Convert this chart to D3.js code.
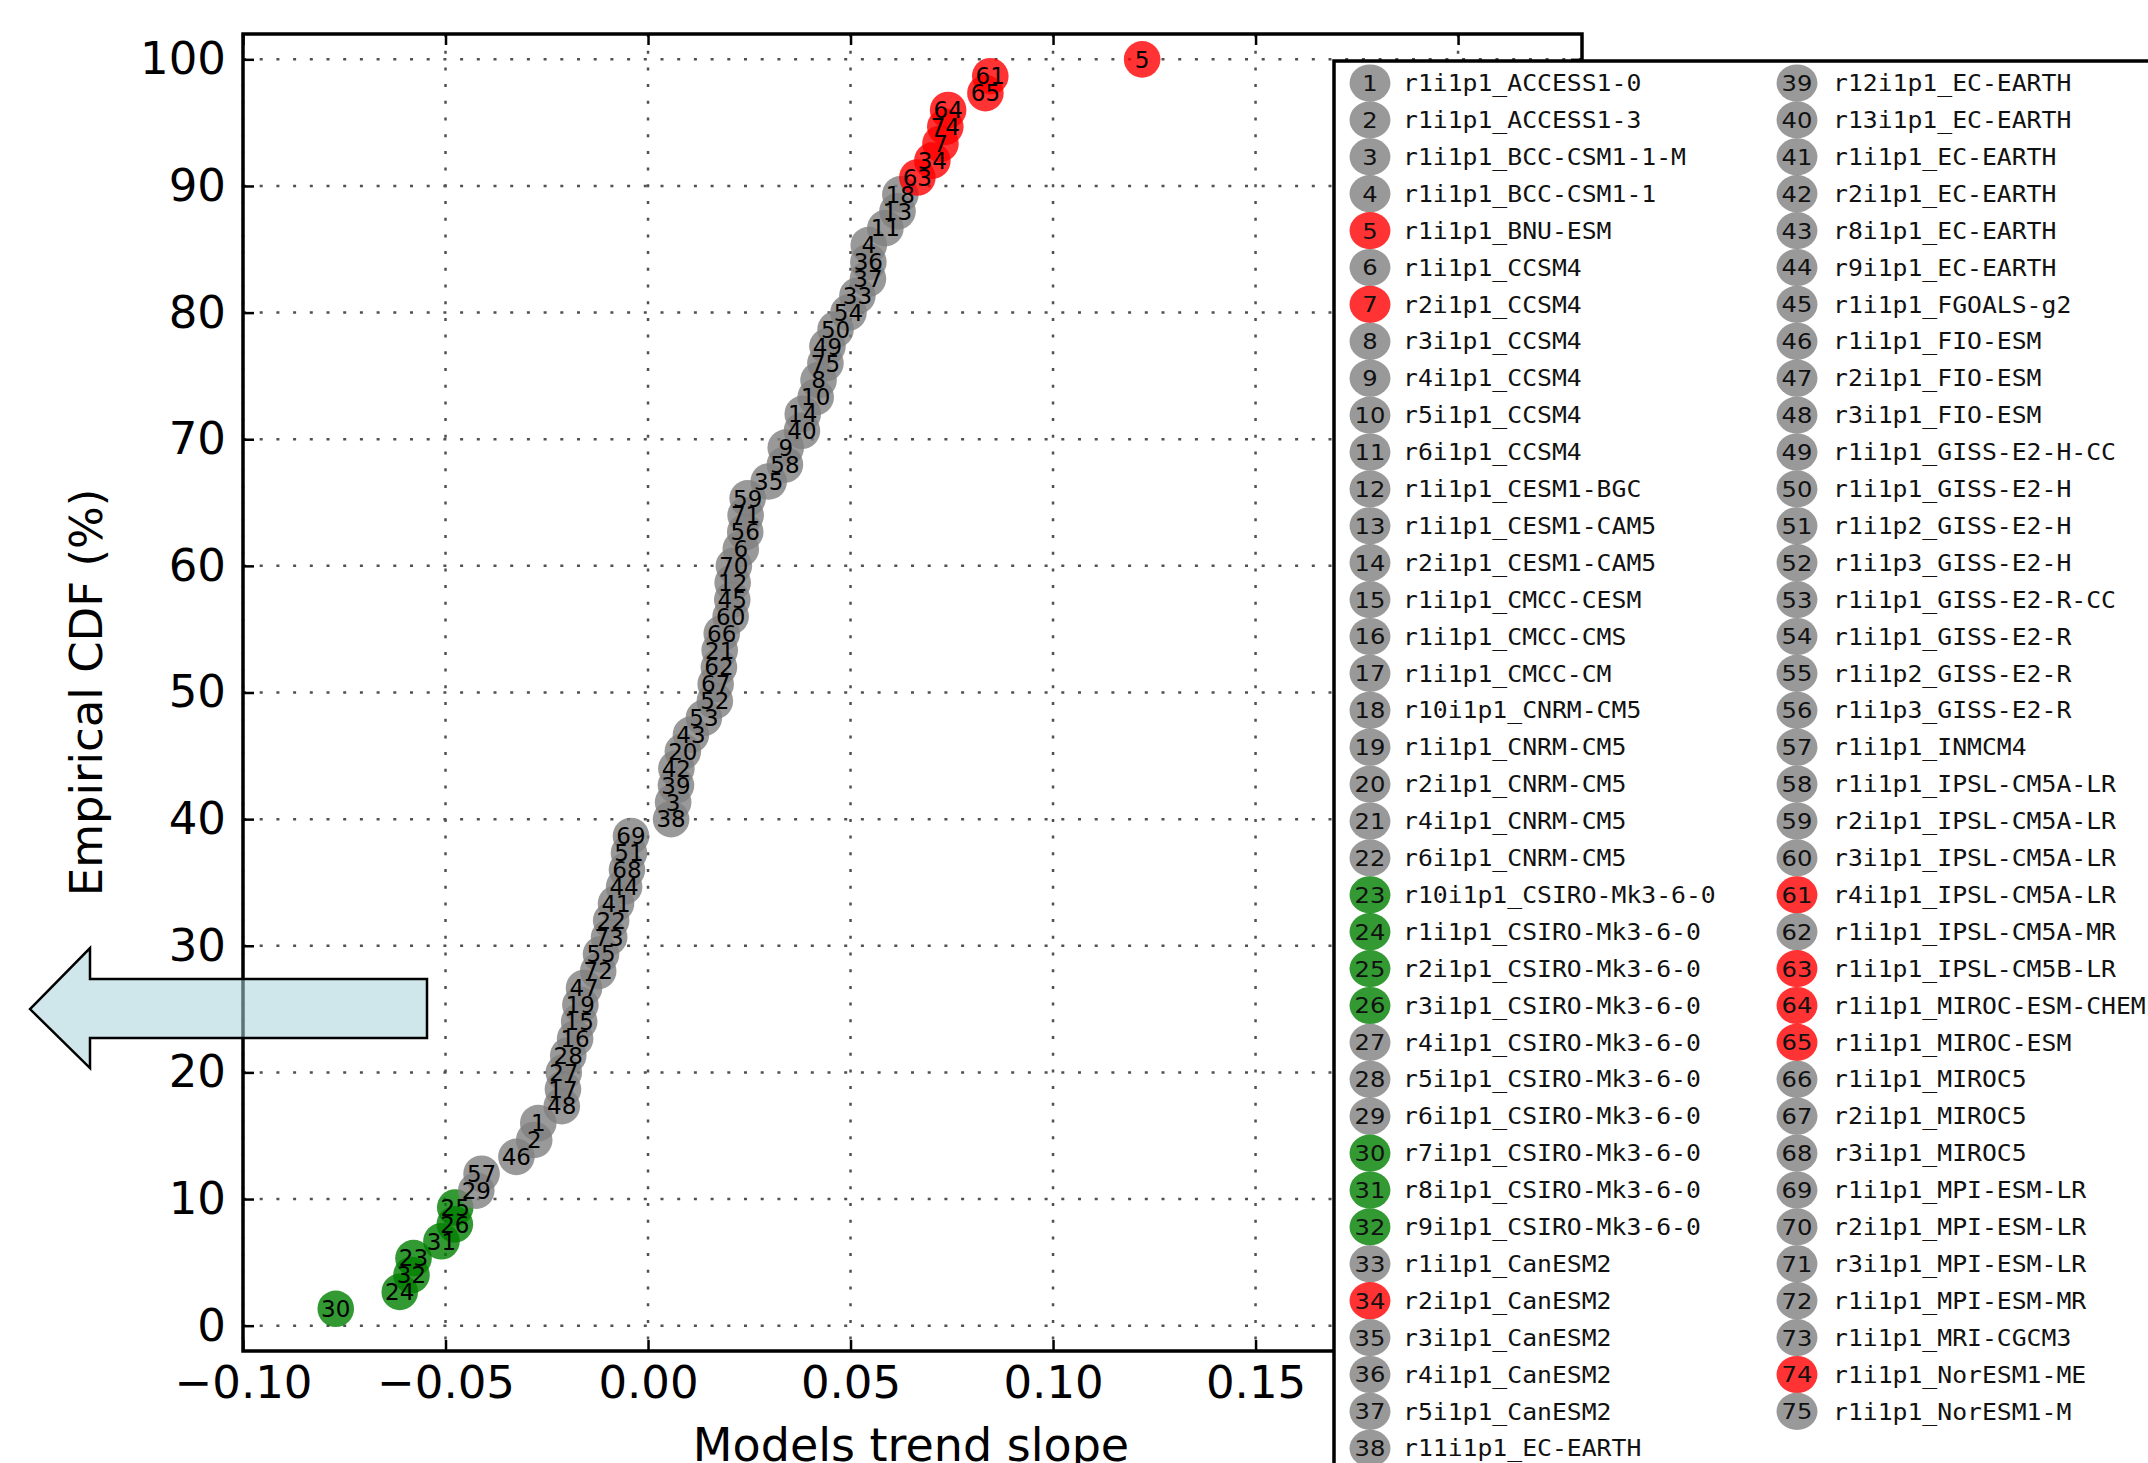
<!DOCTYPE html>
<html>
<head>
<meta charset="utf-8">
<script src="https://cdn.jsdelivr.net/npm/d3@7"></script>
<style>
  html, body { margin: 0; padding: 0; background: #fff; }
  svg { display: block; }
</style>
</head>
<body>
<svg id="chart" width="2148" height="1463"></svg>
<script>
// ---------------- DATA ----------------
const modelNames = [
  "r1i1p1_ACCESS1-0","r1i1p1_ACCESS1-3","r1i1p1_BCC-CSM1-1-M","r1i1p1_BCC-CSM1-1","r1i1p1_BNU-ESM",
  "r1i1p1_CCSM4","r2i1p1_CCSM4","r3i1p1_CCSM4","r4i1p1_CCSM4","r5i1p1_CCSM4",
  "r6i1p1_CCSM4","r1i1p1_CESM1-BGC","r1i1p1_CESM1-CAM5","r2i1p1_CESM1-CAM5","r1i1p1_CMCC-CESM",
  "r1i1p1_CMCC-CMS","r1i1p1_CMCC-CM","r10i1p1_CNRM-CM5","r1i1p1_CNRM-CM5","r2i1p1_CNRM-CM5",
  "r4i1p1_CNRM-CM5","r6i1p1_CNRM-CM5","r10i1p1_CSIRO-Mk3-6-0","r1i1p1_CSIRO-Mk3-6-0","r2i1p1_CSIRO-Mk3-6-0",
  "r3i1p1_CSIRO-Mk3-6-0","r4i1p1_CSIRO-Mk3-6-0","r5i1p1_CSIRO-Mk3-6-0","r6i1p1_CSIRO-Mk3-6-0","r7i1p1_CSIRO-Mk3-6-0",
  "r8i1p1_CSIRO-Mk3-6-0","r9i1p1_CSIRO-Mk3-6-0","r1i1p1_CanESM2","r2i1p1_CanESM2","r3i1p1_CanESM2",
  "r4i1p1_CanESM2","r5i1p1_CanESM2","r11i1p1_EC-EARTH","r12i1p1_EC-EARTH","r13i1p1_EC-EARTH",
  "r1i1p1_EC-EARTH","r2i1p1_EC-EARTH","r8i1p1_EC-EARTH","r9i1p1_EC-EARTH","r1i1p1_FGOALS-g2",
  "r1i1p1_FIO-ESM","r2i1p1_FIO-ESM","r3i1p1_FIO-ESM","r1i1p1_GISS-E2-H-CC","r1i1p1_GISS-E2-H",
  "r1i1p2_GISS-E2-H","r1i1p3_GISS-E2-H","r1i1p1_GISS-E2-R-CC","r1i1p1_GISS-E2-R","r1i1p2_GISS-E2-R",
  "r1i1p3_GISS-E2-R","r1i1p1_INMCM4","r1i1p1_IPSL-CM5A-LR","r2i1p1_IPSL-CM5A-LR","r3i1p1_IPSL-CM5A-LR",
  "r4i1p1_IPSL-CM5A-LR","r1i1p1_IPSL-CM5A-MR","r1i1p1_IPSL-CM5B-LR","r1i1p1_MIROC-ESM-CHEM","r1i1p1_MIROC-ESM",
  "r1i1p1_MIROC5","r2i1p1_MIROC5","r3i1p1_MIROC5","r1i1p1_MPI-ESM-LR","r2i1p1_MPI-ESM-LR",
  "r3i1p1_MPI-ESM-LR","r1i1p1_MPI-ESM-MR","r1i1p1_MRI-CGCM3","r1i1p1_NorESM1-ME","r1i1p1_NorESM1-M"
];
const redModels   = [5, 7, 34, 61, 63, 64, 65, 74];
const greenModels = [23, 24, 25, 26, 30, 31, 32];

// model numbers sorted by trend slope (ascending) and their slopes
const sortedModels = [30,24,32,23,31,26,25,29,57,46,2,1,48,17,27,28,16,15,19,47,72,55,73,22,41,44,68,51,69,38,
  3,39,42,20,43,53,52,67,62,21,66,60,45,12,70,6,56,71,59,35,58,9,40,14,10,8,75,49,50,54,
  33,37,36,4,11,13,18,63,34,7,74,64,65,61,5];
const trendSlope = [-0.0771,-0.0613,-0.0584,-0.0579,-0.0510,-0.0477,-0.0476,-0.0424,-0.0411,-0.0325,
  -0.0281,-0.0271,-0.0213,-0.0210,-0.0208,-0.0197,-0.0180,-0.0170,-0.0167,-0.0158,
  -0.0123,-0.0116,-0.0096,-0.0091,-0.0079,-0.0059,-0.0052,-0.0047,-0.0042,0.0057,
  0.0062,0.0069,0.0070,0.0086,0.0106,0.0138,0.0165,0.0167,0.0175,0.0177,
  0.0182,0.0204,0.0208,0.0209,0.0212,0.0229,0.0240,0.0241,0.0246,0.0298,
  0.0338,0.0340,0.0380,0.0382,0.0414,0.0421,0.0438,0.0443,0.0463,0.0495,
  0.0517,0.0543,0.0544,0.0545,0.0586,0.0616,0.0623,0.0665,0.0702,0.0722,
  0.0734,0.0741,0.0833,0.0845,0.1220];

const xTicks = [-0.10, -0.05, 0.00, 0.05, 0.10, 0.15, 0.20];
const yTicks = [0, 10, 20, 30, 40, 50, 60, 70, 80, 90, 100];
const xLabel = "Models trend slope";
const yLabel = "Empirical CDF (%)";

// ---------------- LAYOUT ----------------
const svg = d3.select("#chart");
const FONT = "'DejaVu Sans', 'Liberation Sans', sans-serif";
const MONO = "'DejaVu Sans Mono', 'Liberation Mono', monospace";
const plot = { left: 243, right: 1582, top: 34, bottom: 1351 };

const x = d3.scaleLinear().domain([-0.1, 0.2306]).range([plot.left, plot.right]);
const y = d3.scaleLinear().domain([-2, 102]).range([plot.bottom, plot.top]);

const n = sortedModels.length;
const points = sortedModels.map((m, i) => ({
  model: m,
  slope: trendSlope[i],
  cdf: (i + 1) / n * 100
}));
const colorOf = m => redModels.includes(m) ? "#ff0000" : (greenModels.includes(m) ? "#008000" : "#808080");

svg.append("rect").attr("width", 2148).attr("height", 1463).attr("fill", "#fff");

// grid
const grid = svg.append("g").attr("stroke", "#333").attr("stroke-width", 2.5)
  .attr("stroke-dasharray", "3,13.7").attr("opacity", 0.85);
grid.selectAll("line.gx").data(xTicks).join("line")
  .attr("x1", d => x(d)).attr("x2", d => x(d)).attr("y1", plot.top).attr("y2", plot.bottom);
grid.selectAll("line.gy").data(yTicks).join("line")
  .attr("class", "gy")
  .attr("y1", d => y(d)).attr("y2", d => y(d)).attr("x1", plot.left).attr("x2", plot.right);

// points
svg.append("g").selectAll("circle").data(points).join("circle")
  .attr("cx", d => x(d.slope)).attr("cy", d => y(d.cdf)).attr("r", 18.3)
  .attr("fill", d => colorOf(d.model)).attr("fill-opacity", 0.8);
svg.append("g").selectAll("text").data(points).join("text")
  .attr("x", d => x(d.slope)).attr("y", d => y(d.cdf)).attr("dy", "0.36em")
  .attr("text-anchor", "middle").attr("font-family", FONT).attr("font-size", 23)
  .attr("fill", "#000").text(d => d.model);

// axes
function styleAxis(g) {
  g.select(".domain").remove();
  g.attr("font-family", FONT).attr("font-size", 45);
  g.selectAll(".tick line").attr("stroke", "#000").attr("stroke-width", 2.5);
  g.selectAll(".tick text").attr("fill", "#000");
}
svg.append("g").attr("transform", `translate(0,${plot.bottom})`)
  .call(d3.axisBottom(x).tickValues(xTicks).tickFormat(d3.format(".2f")).tickSizeInner(-11).tickSizeOuter(0).tickPadding(15))
  .call(styleAxis);
svg.append("g").attr("transform", `translate(0,${plot.top})`)
  .call(d3.axisTop(x).tickValues(xTicks).tickFormat("").tickSizeInner(-11).tickSizeOuter(0))
  .call(styleAxis);
svg.append("g").attr("transform", `translate(${plot.left},0)`)
  .call(d3.axisLeft(y).tickValues(yTicks).tickFormat(d3.format("d")).tickSizeInner(-11).tickSizeOuter(0).tickPadding(17))
  .call(styleAxis);
svg.append("g").attr("transform", `translate(${plot.right},0)`)
  .call(d3.axisRight(y).tickValues(yTicks).tickFormat("").tickSizeInner(-11).tickSizeOuter(0))
  .call(styleAxis);

svg.append("rect").attr("x", plot.left).attr("y", plot.top)
  .attr("width", plot.right - plot.left).attr("height", plot.bottom - plot.top)
  .attr("fill", "none").attr("stroke", "#000").attr("stroke-width", 3.5);

// axis titles
svg.append("text").attr("x", 911).attr("y", 1461).attr("text-anchor", "middle")
  .attr("font-family", FONT).attr("font-size", 46).attr("fill", "#000").text(xLabel);
svg.append("text").attr("transform", `translate(102,${(plot.top + plot.bottom) / 2}) rotate(-90)`)
  .attr("text-anchor", "middle")
  .attr("font-family", FONT).attr("font-size", 45).attr("fill", "#000").text(yLabel);

// legend
const legendLeft = 1334, legendTop = 61, sx = 1.1, rowsPerCol = 38, rowH = 36.9;
svg.append("rect").attr("x", legendLeft).attr("y", legendTop).attr("width", 1000).attr("height", 1600)
  .attr("fill", "#fff").attr("stroke", "#000").attr("stroke-width", 3.5);
const lg = svg.append("g").attr("transform", `translate(${legendLeft},${legendTop}) scale(${sx},1)`);
const legendItems = modelNames.map((name, i) => ({ num: i + 1, name, col: i < rowsPerCol ? 0 : 1, row: i < rowsPerCol ? i : i - rowsPerCol }));
const colCircle = [36 / sx, 463 / sx], colText = [69 / sx, 499 / sx];
const li = lg.selectAll("g.item").data(legendItems).join("g").attr("class", "item")
  .attr("transform", d => `translate(0,${22 + d.row * rowH})`);
li.append("circle").attr("cx", d => colCircle[d.col]).attr("cy", 0).attr("r", 18.6)
  .attr("fill", d => colorOf(d.num)).attr("fill-opacity", 0.8);
li.append("text").attr("x", d => colCircle[d.col]).attr("dy", "0.36em").attr("text-anchor", "middle")
  .attr("font-family", FONT).attr("font-size", 22).attr("fill", "#111").text(d => d.num);
li.append("text").attr("x", d => colText[d.col]).attr("dy", "0.36em")
  .attr("font-family", MONO).attr("font-size", 22.5).attr("fill", "#111").text(d => d.name);

// arrow annotation (pointing left, centred on CDF = 25 %)
const ay = y(25);
const arrowPts = [[30, ay], [90, ay - 61], [90, ay - 30], [427, ay - 30], [427, ay + 29], [90, ay + 29], [90, ay + 59]];
svg.append("polygon").attr("points", arrowPts.map(p => p.join(",")).join(" "))
  .attr("fill", "#a8d4da").attr("fill-opacity", 0.55)
  .attr("stroke", "#000").attr("stroke-width", 2.5).attr("stroke-linejoin", "miter");
</script>
</body>
</html>
